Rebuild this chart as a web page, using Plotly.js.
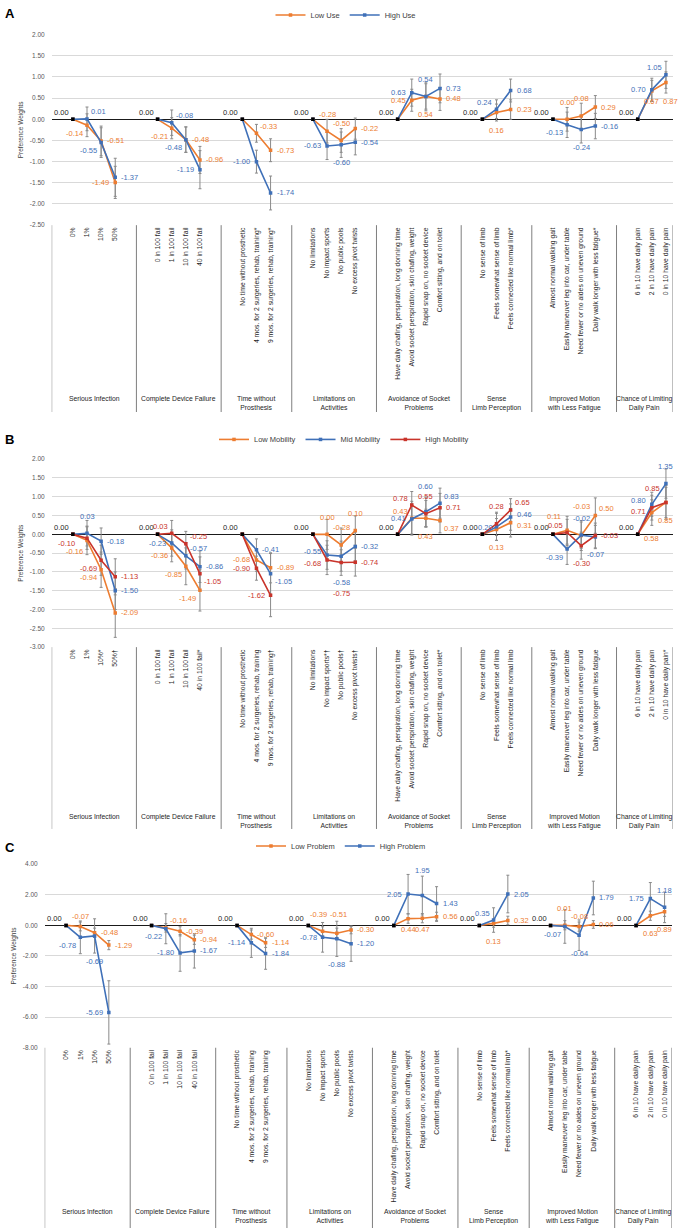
<!DOCTYPE html>
<html><head><meta charset="utf-8">
<script src="https://cdn.plot.ly/plotly-3.0.1.min.js"></script>
<style>html,body{margin:0;padding:0;background:#fff}#chart{width:680px;height:1231px}</style>
</head><body><div id="chart"></div>
<script>
// ---------------- DATA ----------------
const groupNames = ['Serious Infection','Complete Device Failure','Time without<br>Prosthesis','Limitations on<br>Activities','Avoidance of Socket<br>Problems','Sense<br>Limb Perception','Improved Motion<br>with Less Fatigue','Chance of Limiting<br>Daily Pain'];

const levelsA = [
  ['0%','1%','10%','50%'],
  ['0 in 100 fail','1 in 100 fail','10 in 100 fail','40 in 100 fail'],
  ['No time without prosthetic','4 mos. for 2 surgeries, rehab, training*','9 mos. for 2 surgeries, rehab, training*'],
  ['No limitations','No impact sports','No public pools','No excess pivot twists'],
  ['Have daily chafing, perspiration, long donning time','Avoid socket perspiration, skin chafing, weight','Rapid snap on, no socket device','Comfort sitting, and on toilet'],
  ['No sense of limb','Feels somewhat sense of limb','Feels connected like normal limb*'],
  ['Almost normal walking gait','Easily maneuver leg into car, under table','Need fewer or no aides on uneven ground','Daily walk longer with less fatigue*'],
  ['6 in 10 have daily pain','2 in 10 have daily pain','0 in 10 have daily pain']
];
const levelsB = [
  ['0%','1%','10%*','50%†'],
  ['0 in 100 fail','1 in 100 fail','10 in 100 fail','40 in 100 fail*'],
  ['No time without prosthetic','4 mos. for 2 surgeries, rehab, training','9 mos. for 2 surgeries, rehab, training†'],
  ['No limitations','No impact sports*†','No public pools†','No excess pivot twists†'],
  ['Have daily chafing, perspiration, long donning time','Avoid socket perspiration, skin chafing, weight','Rapid snap on, no socket device','Comfort sitting, and on toilet*'],
  ['No sense of limb','Feels somewhat sense of limb','Feels connected like normal limb'],
  ['Almost normal walking gait','Easily maneuver leg into car, under table','Need fewer or no aides on uneven ground','Daily walk longer with less fatigue'],
  ['6 in 10 have daily pain','2 in 10 have daily pain','0 in 10 have daily pain*']
];
const levelsC = [
  ['0%','1%','10%','50%'],
  ['0 in 100 fail','1 in 100 fail','10 in 100 fail','40 in 100 fail'],
  ['No time without prosthetic','4 mos. for 2 surgeries, rehab, training','9 mos. for 2 surgeries, rehab, training'],
  ['No limitations','No impact sports','No public pools','No excess pivot twists'],
  ['Have daily chafing, perspiration, long donning time','Avoid socket perspiration, skin chafing, weight','Rapid snap on, no socket device','Comfort sitting, and on toilet'],
  ['No sense of limb','Feels somewhat sense of limb','Feels connected like normal limb*'],
  ['Almost normal walking gait','Easily maneuver leg into car, under table','Need fewer or no aides on uneven ground','Daily walk longer with less fatigue'],
  ['6 in 10 have daily pain','2 in 10 have daily pain','0 in 10 have daily pain']
];

// Panel A
const lowUse     = [[0,-0.14,-0.51,-1.49],[0,-0.21,-0.48,-0.96],[0,-0.33,-0.73],[0,-0.28,-0.50,-0.22],[0,0.45,0.54,0.48],[0,0.16,0.23],[0,0.00,0.08,0.29],[0,0.67,0.87]];
const lowUseErr  = [[null,0.27,0.35,0.38],[null,0.25,0.30,0.32],[null,0.21,0.27],[null,0.28,0.28,0.25],[null,0.26,0.30,0.27],[null,0.20,0.23],[null,0.28,0.30,0.27],[null,0.25,0.25]];
const highUse    = [[0,0.01,-0.55,-1.37],[0,-0.08,-0.48,-1.19],[0,-1.00,-1.74],[0,-0.63,-0.60,-0.54],[0,0.63,0.54,0.73],[0,0.24,0.68],[0,-0.13,-0.24,-0.16],[0,0.70,1.05]];
const highUseErr = [[null,0.28,0.35,0.45],[null,0.30,0.30,0.45],[null,0.27,0.40],[null,0.32,0.30,0.30],[null,0.32,0.34,0.34],[null,0.22,0.27],[null,0.30,0.32,0.30],[null,0.27,0.32]];
// Panel B
const lowMob     = [[0,-0.16,-0.94,-2.09],[0,-0.36,-0.85,-1.49],[0,-0.68,-0.89],[0,0.00,-0.28,0.10],[0,0.43,0.43,0.37],[0,0.13,0.31],[0,0.11,-0.03,0.50],[0,0.58,0.85]];
const lowMobErr  = [[null,0.38,0.47,0.65],[null,0.37,0.49,0.55],[null,0.30,0.40],[null,0.40,0.45,0.39],[null,0.45,0.24,0.33],[null,0.29,0.38],[null,0.37,0.40,0.47],[null,0.34,0.45]];
const midMob     = [[0,0.03,-0.18,-1.50],[0,-0.23,-0.57,-0.86],[0,-0.41,-1.05],[0,-0.55,-0.58,-0.32],[0,0.41,0.60,0.83],[0,0.20,0.46],[0,-0.39,-0.02,-0.07],[0,0.80,1.35]];
const midMobErr  = [[null,0.34,0.35,0.50],[null,0.35,0.35,0.42],[null,0.29,0.54],[null,0.38,0.40,0.38],[null,0.40,0.39,0.40],[null,0.36,0.35],[null,0.41,0.35,0.31],[null,0.32,0.39]];
const highMob    = [[0,-0.10,-0.69,-1.13],[0,0.03,-0.25,-1.05],[0,-0.90,-1.62],[0,-0.68,-0.75,-0.74],[0,0.78,0.55,0.71],[0,0.28,0.65],[0,0.05,-0.30,-0.03],[0,0.71,0.85]];
const highMobErr = [[null,0.30,0.40,0.48],[null,0.34,0.33,0.45],[null,0.32,0.57],[null,0.39,0.34,0.37],[null,0.36,0.35,0.38],[null,0.31,0.30],[null,0.35,0.36,0.33],[null,0.33,0.40]];
// Panel C
const lowProb     = [[0,-0.07,-0.48,-1.29],[0,-0.16,-0.39,-0.94],[0,-0.60,-1.14],[0,-0.39,-0.51,-0.30],[0,0.44,0.47,0.56],[0,0.13,0.32],[0,0.01,-0.08,0.06],[0,0.63,0.89]];
const lowProbErr  = [[null,0.29,0.30,0.30],[null,0.28,0.30,0.30],[null,0.30,0.30],[null,0.30,0.33,0.25],[null,0.30,0.30,0.30],[null,0.25,0.28],[null,0.30,0.30,0.25],[null,0.30,0.30]];
const highProb    = [[0,-0.78,-0.69,-5.69],[0,-0.22,-1.80,-1.67],[0,-1.14,-1.84],[0,-0.78,-0.88,-1.20],[0,2.05,1.95,1.43],[0,0.35,2.05],[0,-0.07,-0.64,1.79],[0,1.75,1.18]];
const highProbErr = [[null,1.07,1.12,2.07],[null,0.98,1.20,1.12],[null,0.95,1.03],[null,0.97,1.15,1.15],[null,1.28,1.27,1.10],[null,0.80,1.23],[null,1.10,1.00,1.10],[null,1.05,1.00]];

// y tick values
const yTicksA = [2,1.5,1,0.5,0,-0.5,-1,-1.5,-2,-2.5];
const yTicksB = [2,1.5,1,0.5,0,-0.5,-1,-1.5,-2,-2.5,-3];
const yTicksC = [4,2,0,-2,-4,-6,-8];

// ---------------- STYLE (value-label placement codes) ----------------
const lowUsePos   = [['','BL','R','L'],['','BL','R','R'],['','TR','R'],['','T','T','R'],['','L','B','R'],['','B','R'],['','T','T','R'],['','b','Br']];
const highUsePos  = [['','TR','BL','R'],['','TR','BL','L'],['','L','R'],['','L','B','R'],['','L','T','R'],['','TL','R'],['','BL','B','R'],['','L','TL']];
const lowMobPos   = [['','BLd','BL','R'],['','BL','BL','BL'],['','L','R'],['','T','T','T'],['','TL','B','BR'],['','B','Rd'],['','TL2','TTT','TR'],['','BB','B']];
const midMobPos   = [['','T','R','R'],['','L','TR','R'],['','R','BR'],['','Lu','BB','R'],['','L','TT','TR'],['','Ln','Ru'],['','BL','T','B'],['','Lu','T']];
const highMobPos  = [['','BLf','BL','R'],['','TL','TR','BR'],['','L','L'],['','Ld','BBB','R'],['','TL','T','R'],['','T','TR'],['','TL','B','R'],['','Ld','TL2']];
const lowProbPos  = [['','t','R','R'],['','TR','R','R'],['','R','R'],['','Tl','Tr','R'],['','b','b','R'],['','B','R'],['','T','t','R'],['','B','B']];
const highProbPos = [['','BL','BB','L'],['','BL','L','R'],['','L','R'],['','L','BB','R'],['','L','TT','R'],['','TL','R'],['','BL','B','R'],['','L','T']];

const ORANGE = '#ED7D31', BLUE = '#3F70B8', RED = '#C9342B';
const ERRC = '#8a8a8a';
const FONT = 'Liberation Sans, Arial, sans-serif';
const NARROW = '"Liberation Sans Narrow", "Arial Narrow", "Liberation Sans", Arial, sans-serif';
// code -> [xanchor, xshift, yshift]
const posMap = {
  L:['right',-5,0], R:['left',5,0], Lu:['right',-5,4], Ld:['right',-5,-4], Ln:['right',-2,-1], Ru:['left',5,3], Rd:['left',5,-3],
  T:['center',0,17], Tl:['center',-4,17], Tr:['center',2,19], TT:['center',0,25], TTT:['center',0,29], t:['center',0,10],
  B:['center',0,-18], BB:['center',0,-26], BBB:['center',0,-31], b:['center',0,-11], Br:['center',5,-19],
  TL:['right',-3,7], TL2:['right',-5,14], TR:['left',3,7], BL:['right',-3,-8], BLd:['right',-3,-11], BLf:['right',-11,-5], BR:['left',3,-8]
};

function slotLayout(levels){
  let pos = 0; const xs=[], bounds=[-0.5], centers=[];
  levels.forEach((g,gi)=>{
    const start = pos; pos += 1;
    xs.push(g.map((_,i)=>pos+i)); pos += g.length;
    if (gi < levels.length-1) pos += 1;
    bounds.push(pos-0.5);
    centers.push((start+pos-1)/2);
  });
  return {xs, bounds, centers, total:pos};
}

const traces = [], labelAnns = [];
function addSeries(vals, errs, pos, color, name, ax, ay, legend, L){
  const x=[],y=[],e=[];
  vals.forEach((g,gi)=>{
    g.forEach((v,i)=>{
      x.push(L.xs[gi][i]); y.push(v); e.push(errs[gi][i]);
      if (i>0){
        const p = posMap[pos[gi][i]] || posMap.R;
        labelAnns.push({xref:ax,yref:ay,x:L.xs[gi][i],y:v,text:v.toFixed(2),showarrow:false,xanchor:p[0],yanchor:'middle',
          xshift:p[1],yshift:p[2],borderpad:0,font:{family:FONT,size:7.5,color}});
      }
    });
    x.push(L.xs[gi][g.length-1]+0.5); y.push(null); e.push(null);
  });
  traces.push({x,y,xaxis:ax,yaxis:ay,mode:'markers',marker:{size:2,opacity:0},showlegend:false,hoverinfo:'skip',
    error_y:{type:'data',array:e,visible:true,color:ERRC,thickness:1,width:1.5}, _order:0});
  traces.push({x,y,xaxis:ax,yaxis:ay,mode:'lines+markers',name,legend,line:{color,width:1.6},
    marker:{symbol:'square',size:3.5,color},connectgaps:false,hoverinfo:'skip', _order:1});
}
function addRef(vals, ax, ay, L){
  const x=vals.map((g,gi)=>L.xs[gi][0]), y=vals.map(g=>g[0]);
  traces.push({x,y,xaxis:ax,yaxis:ay,mode:'markers',marker:{symbol:'square',size:3.5,color:'#000'},showlegend:false,hoverinfo:'skip',_order:3});
  x.forEach((xx,k)=>labelAnns.push({xref:ax,yref:ay,x:xx,y:y[k],text:y[k].toFixed(2),showarrow:false,xanchor:'right',yanchor:'middle',
    xshift:-3,yshift:7,borderpad:0,font:{family:FONT,size:7.5,color:'#262626'}}));
}

const LA = slotLayout(levelsA), LB = slotLayout(levelsB), LC = slotLayout(levelsC);
addSeries(lowUse, lowUseErr, lowUsePos, ORANGE, 'Low Use', 'x','y','legend', LA);
addSeries(highUse, highUseErr, highUsePos, BLUE, 'High Use', 'x','y','legend', LA);
addRef(lowUse,'x','y',LA);
addSeries(lowMob, lowMobErr, lowMobPos, ORANGE, 'Low Mobility', 'x2','y2','legend2', LB);
addSeries(midMob, midMobErr, midMobPos, BLUE, 'Mid Mobility', 'x2','y2','legend2', LB);
addSeries(highMob, highMobErr, highMobPos, RED, 'High Mobility', 'x2','y2','legend2', LB);
addRef(lowMob,'x2','y2',LB);
addSeries(lowProb, lowProbErr, lowProbPos, ORANGE, 'Low Problem', 'x3','y3','legend3', LC);
addSeries(highProb, highProbErr, highProbPos, BLUE, 'High Problem', 'x3','y3','legend3', LC);
addRef(lowProb,'x3','y3',LC);
traces.sort((a,b)=>a._order-b._order);
traces.forEach(t=>delete t._order);

// ---------------- LAYOUT ----------------
const H = 1231, W = 680;
const py = px => 1 - px/H;
const panels = [
  {L:LA, levels:levelsA, ticks:yTicksA, xd:[51.7,673], yd:[31.7,222.7], sepEnd:410, labTop:391, letter:'A', letterY:10.5, leg:{x:346,y:12}},
  {L:LB, levels:levelsB, ticks:yTicksB, xd:[51.7,673], yd:[457.3,645.7], sepEnd:828, labTop:810, letter:'B', letterY:438, leg:{x:344,y:437.5}},
  {L:LC, levels:levelsC, ticks:yTicksC, xd:[44.7,671.7], yd:[863.3,1047.3], sepEnd:1228, labTop:1206, letter:'C', letterY:847, leg:{x:341,y:845}}
];
const layout = {width:W,height:H,margin:{l:0,r:0,t:0,b:0,pad:0},paper_bgcolor:'#fff',plot_bgcolor:'rgba(0,0,0,0)',
  font:{family:FONT,color:'#404040'},showlegend:true,shapes:[],annotations:labelAnns};
panels.forEach((p,i)=>{
  const sx = i===0?'':String(i+1);
  const xs = p.L.xs.flat(), tt = p.levels.flat();
  layout['xaxis'+sx] = {domain:[p.xd[0]/W,p.xd[1]/W],anchor:'y'+sx,range:[-0.5,p.L.total-0.5],tickmode:'array',tickvals:xs,ticktext:tt,
    tickangle:-90,tickfont:{family:NARROW,size:6.8,color:'#262626'},showgrid:false,zeroline:false,showline:false,ticks:'',fixedrange:true,automargin:false};
  layout['yaxis'+sx] = {domain:[py(p.yd[1]),py(p.yd[0])],anchor:'x'+sx,range:[p.ticks[p.ticks.length-1],p.ticks[0]],tickmode:'array',
    tickvals:p.ticks,ticktext:p.ticks.map(v=>v.toFixed(2)),gridcolor:'#d9d9d9',gridwidth:1,zeroline:true,zerolinecolor:'#1a1a1a',zerolinewidth:1.3,
    showline:false,ticks:'',ticklabelstandoff:6,tickfont:{family:FONT,size:6.5,color:'#595959'},automargin:false,fixedrange:true,
    title:{text:'Preference Weights',font:{family:FONT,size:6.5,color:'#404040'},standoff:5}};
  const legKey = 'legend'+(i===0?'':String(i+1));
  layout[legKey] = {orientation:'h',x:p.leg.x/W,xanchor:'center',y:py(p.leg.y),yanchor:'middle',font:{family:FONT,size:7.5,color:'#404040'},
    itemwidth:30,bgcolor:'rgba(0,0,0,0)',traceorder:'normal'};
  p.L.bounds.forEach(b=>layout.shapes.push({type:'line',xref:'x'+sx,yref:'paper',x0:b,x1:b,y0:py(p.yd[1]),y1:py(p.sepEnd),line:{color:'#7f7f7f',width:1}}));
  groupNames.forEach((g,gi)=>layout.annotations.push({xref:'x'+sx,yref:'paper',x:p.L.centers[gi],y:py(p.labTop),yanchor:'top',xanchor:'center',
    text:g,showarrow:false,font:{family:FONT,size:6.8,color:'#262626'}}));
  layout.annotations.push({xref:'paper',yref:'paper',x:3/W,xanchor:'left',y:py(p.letterY),yanchor:'middle',text:'<b>'+p.letter+'</b>',showarrow:false,
    font:{family:FONT,size:13,color:'#000'}});
});

Plotly.newPlot('chart', traces, layout, {staticPlot:true,displayModeBar:false});
</script></body></html>
